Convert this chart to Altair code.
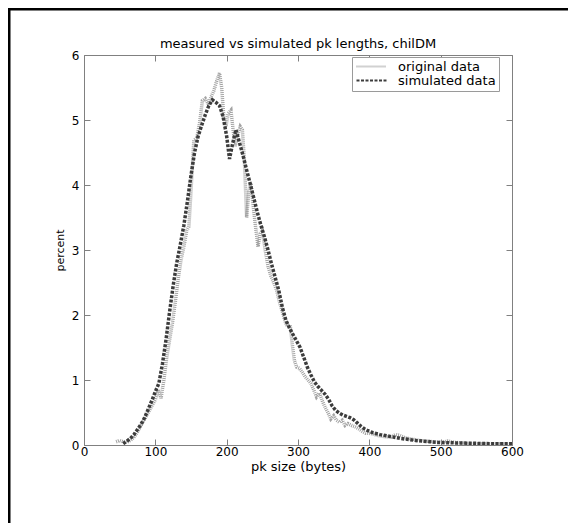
import altair as alt
import pandas as pd

# ---- data ----
orig_x = [45, 50, 55, 60, 65, 70, 75, 80, 85, 90, 95, 100, 104, 108, 112, 116, 120, 124, 128, 132,
          136, 140, 144, 147, 149, 152, 154, 158, 162, 166, 170, 174, 178, 182, 186, 190, 193, 196,
          199, 202, 206, 209, 212, 215, 219, 222, 225, 228, 231, 234, 237, 240, 244, 247, 250, 254,
          258, 262, 266, 270, 274, 278, 282, 285, 289, 292, 295, 298, 302, 306, 310, 314, 318, 322,
          326, 330, 334, 338, 342, 346, 350, 354, 358, 362, 366, 370, 375, 380, 385, 390, 395, 400,
          405, 410, 420, 430, 437, 442, 450, 460, 470, 480, 490, 500, 510, 520, 530, 545, 560, 580, 600]
orig_y = [0.05, 0.07, 0.05, 0.04, 0.07, 0.12, 0.20, 0.30, 0.40, 0.50, 0.60, 0.70, 0.85, 0.72, 1.00,
          1.35, 1.62, 1.88, 2.20, 2.55, 2.85, 3.05, 3.30, 3.36, 3.72, 4.30, 4.69, 4.72, 4.95, 5.30,
          5.33, 5.25, 5.35, 5.45, 5.60, 5.72, 5.50, 5.05, 4.90, 5.10, 5.15, 4.85, 4.60, 4.75, 4.90,
          4.85, 4.35, 3.50, 3.90, 4.03, 3.70, 3.40, 3.05, 3.25, 3.30, 3.00, 2.75, 2.60, 2.50, 2.38,
          2.20, 2.05, 1.90, 1.82, 1.85, 1.55, 1.30, 1.20, 1.18, 1.12, 1.05, 1.00, 0.95, 0.85, 0.74,
          0.80, 0.68, 0.58, 0.50, 0.40, 0.45, 0.38, 0.35, 0.38, 0.30, 0.33, 0.30, 0.28, 0.25, 0.21,
          0.18, 0.18, 0.17, 0.15, 0.13, 0.12, 0.16, 0.15, 0.11, 0.09, 0.07, 0.06, 0.05, 0.04, 0.06,
          0.04, 0.03, 0.02, 0.02, 0.02, 0.02]

sim_x = [55, 60, 65, 70, 75, 80, 85, 90, 95, 100, 105, 110, 115, 120, 125, 130, 135, 140, 145, 150,
         155, 160, 165, 170, 175, 180, 185, 190, 195, 200, 204, 208, 213, 218, 223, 228, 233, 238,
         243, 248, 253, 258, 263, 268, 273, 278, 283, 288, 293, 298, 303, 308, 313, 318, 323, 328,
         333, 338, 343, 348, 353, 358, 363, 368, 373, 378, 383, 388, 393, 398, 405, 415, 425, 435,
         445, 455, 465, 475, 485, 495, 510, 530, 550, 570, 590, 600]
sim_y = [0.02, 0.06, 0.10, 0.16, 0.24, 0.32, 0.42, 0.55, 0.68, 0.82, 0.95, 1.25, 1.62, 2.05, 2.45,
         2.80, 3.08, 3.38, 3.75, 4.15, 4.50, 4.75, 4.92, 5.08, 5.22, 5.31, 5.27, 5.22, 5.05, 4.75,
         4.40, 4.62, 4.85, 4.65, 4.45, 4.23, 4.02, 3.80, 3.58, 3.38, 3.20, 3.00, 2.78, 2.58, 2.38,
         2.12, 1.92, 1.80, 1.70, 1.60, 1.50, 1.35, 1.20, 1.08, 0.97, 0.90, 0.84, 0.78, 0.70, 0.60,
         0.53, 0.49, 0.46, 0.44, 0.42, 0.39, 0.34, 0.29, 0.25, 0.22, 0.19, 0.16, 0.14, 0.12, 0.10,
         0.085, 0.07, 0.06, 0.05, 0.04, 0.035, 0.03, 0.025, 0.02, 0.02, 0.02]

series_names = ["original data", "simulated data"]
x_ticks = [0, 100, 200, 300, 400, 500, 600]
y_ticks = [0, 1, 2, 3, 4, 5, 6]
title_text = "measured vs simulated pk lengths, chilDM"

df = pd.concat([
    pd.DataFrame({"x": orig_x, "y": orig_y, "series": series_names[0]}),
    pd.DataFrame({"x": sim_x, "y": sim_y, "series": series_names[1]}),
], ignore_index=True)

FONT = "DejaVu Sans"
W, H = 428, 390
PAD = {"left": 76, "top": 47, "right": 56, "bottom": 78}

xscale = alt.Scale(domain=[0, 600], nice=False, zero=False)
yscale = alt.Scale(domain=[0, 6], nice=False, zero=False)

common_axis = dict(domain=False, grid=False, tickColor="#808080", tickSize=6, offset=-6,
                   labelColor="black", labelFont=FONT, labelFontSize=12)

x_bottom = alt.Axis(orient="bottom", values=x_ticks, labelPadding=1, title="pk size (bytes)",
                    titleFont=FONT, titleFontSize=13, titleFontWeight="normal", titleColor="black",
                    titlePadding=3, labelFlush=False, **common_axis)
y_left = alt.Axis(orient="left", values=y_ticks, labelPadding=5, title="percent",
                  titleFont=FONT, titleFontSize=11, titleFontWeight="normal", titleColor="black",
                  titlePadding=6, **common_axis)
x_top = alt.Axis(orient="top", values=x_ticks, labels=False, title=None, **common_axis)
y_right = alt.Axis(orient="right", values=y_ticks, labels=False, title=None, **common_axis)

legend = alt.Legend(title=None, orient="none", legendX=268, legendY=2, padding=3,
                    strokeColor="#9a9a9a", fillColor="white", symbolType="M-1,0H5",
                    symbolSize=100, symbolStrokeWidth=2, labelFont=FONT, labelFontSize=13,
                    labelColor="black", labelOffset=30, rowPadding=-3)

lines = alt.Chart(df).mark_line(strokeWidth=3.5, clip=True).encode(
    x=alt.X("x:Q", scale=xscale, axis=x_bottom),
    y=alt.Y("y:Q", scale=yscale, axis=y_left),
    color=alt.Color("series:N", scale=alt.Scale(domain=series_names, range=["#a3a3a3", "#3c3c3c"]),
                    legend=legend),
    strokeDash=alt.StrokeDash("series:N", scale=alt.Scale(domain=series_names, range=[[1, 1], [3, 1.5]]),
                              legend=legend),
)

axes2 = alt.Chart(df).mark_point(opacity=0).encode(
    x=alt.X("x:Q", scale=xscale, axis=x_top),
    y=alt.Y("y:Q", scale=yscale, axis=y_right),
)

one_row = pd.DataFrame({"k": [0]})
frame_left = alt.Chart(one_row).mark_rule(color="black", strokeWidth=3).encode(
    x=alt.value(-75), y=alt.value(-47), y2=alt.value(H + PAD["bottom"]))
frame_top = alt.Chart(one_row).mark_rule(color="black", strokeWidth=3).encode(
    x=alt.value(-PAD["left"]), x2=alt.value(W + PAD["right"]), y=alt.value(-46))
title = alt.Chart(one_row).mark_text(font=FONT, fontSize=13, color="black", align="center",
                                     baseline="alphabetic").encode(
    text=alt.value(title_text), x=alt.value(W / 2), y=alt.value(-7.5))

chart = alt.layer(frame_left, frame_top, title, lines, axes2).resolve_scale(
    x="independent", y="independent"
).resolve_axis(
    x="independent", y="independent"
).properties(
    width=W, height=H,
    autosize=alt.AutoSizeParams(type="none"),
    padding=PAD,
).configure(font=FONT).configure_view(stroke="#808080", strokeWidth=1)

chart.save("out.html", embed_options={"renderer": "svg", "actions": False})
